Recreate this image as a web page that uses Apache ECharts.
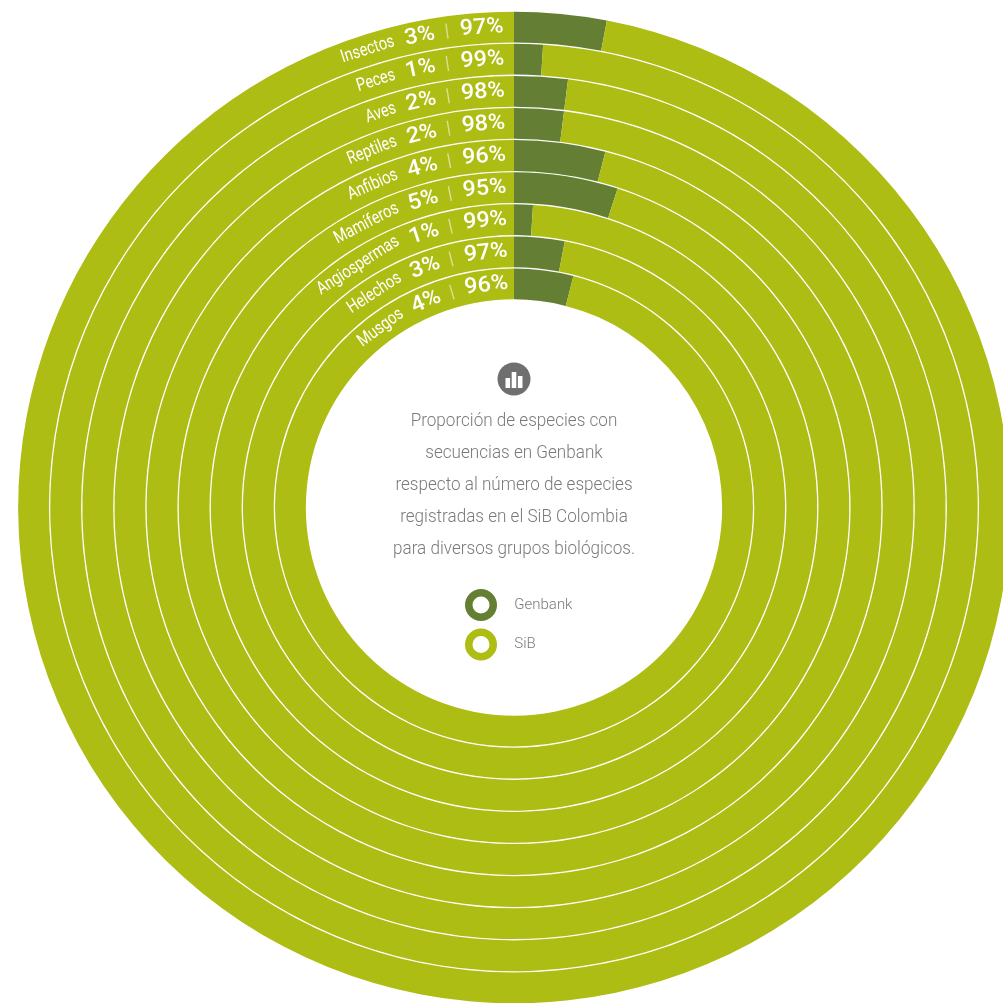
<!DOCTYPE html>
<html lang="es">
<head>
<meta charset="utf-8">
<style>html,body{margin:0;padding:0;background:#fff}#chart{width:1003px;height:1003px}</style>
<script src="https://cdn.jsdelivr.net/npm/echarts@6/dist/echarts.min.js"></script>
</head>
<body>
<div id="chart"></div>
<script>
// Taxonomic groups, outermost ring first
const categories = ['Insectos','Peces','Aves','Reptiles','Anfibios','Mamíferos','Angiospermas','Helechos','Musgos'];
const genbank = [3,1,2,2,4,5,1,3,4];
const sib = [97,99,98,98,96,95,99,97,96];
const descriptionLines = [
  'Proporción de especies con',
  'secuencias en Genbank',
  'respecto al número de especies',
  'registradas en el SiB Colombia',
  'para diversos grupos biológicos.'
];

const DARK = '#647f33', LIGHT = '#adbd13', GREY = '#7a7a7a';
const NAME_FONT = '400 18px Roboto';
const VALUE_FONT = '500 22px Roboto';
const NAME_SQUEEZE = 0.81, VALUE_SQUEEZE = 1.06;

const measure = document.createElement('canvas').getContext('2d');
function widthOf(text, font) { measure.font = font; return measure.measureText(text).width; }

// Words of one ring are laid along the arc, right to left, ending near the 12 o'clock line.
function renderRingLabels(params, api) {
  const i = api.value(0);
  const top = api.coord([i, 0]);
  const radius = params.coordSys.cy - top[1];
  const words = [
    {text: sib[i] + '%', font: VALUE_FONT, squeeze: VALUE_SQUEEZE, gap: 2 + radius * 0.0175},
    {text: '|', font: NAME_FONT, squeeze: 1, gap: 11, opacity: 0.55},
    {text: genbank[i] + '%', font: VALUE_FONT, squeeze: VALUE_SQUEEZE, gap: 10},
    {text: categories[i], font: NAME_FONT, squeeze: NAME_SQUEEZE, gap: 11}
  ];
  let arc = 0;
  const children = words.map(function (w) {
    const width = widthOf(w.text, w.font) * w.squeeze;
    arc += w.gap + width / 2;
    const share = arc / (2 * Math.PI * radius);
    const p = api.coord([i, 100 - share * 100]);
    arc += width / 2;
    return {
      type: 'text',
      x: p[0], y: p[1],
      rotation: share * 2 * Math.PI,
      scaleX: w.squeeze,
      style: {
        text: w.text, font: w.font, fill: '#fff', opacity: w.opacity || 1,
        align: 'center', verticalAlign: 'middle'
      }
    };
  });
  return {type: 'group', children: children};
}

const chart = echarts.init(document.getElementById('chart'), null, {renderer: 'canvas'});
chart.setOption({
  animation: false,
  backgroundColor: '#fff',
  polar: {center: [514, 507.5], radius: [207.5, 496.5]},
  angleAxis: {type: 'value', min: 0, max: 100, startAngle: 90, show: false},
  radiusAxis: {
    type: 'category', data: categories, inverse: true,
    axisLine: {show: false}, axisTick: {show: false}, axisLabel: {show: false}, splitLine: {show: false}
  },
  legend: {
    data: [
      {name: 'Genbank', itemStyle: {color: '#fff', borderColor: DARK, borderWidth: 7.5}},
      {name: 'SiB', itemStyle: {color: '#fff', borderColor: LIGHT, borderWidth: 7.5}}
    ],
    orient: 'vertical', left: 460, top: 584,
    icon: 'circle', itemWidth: 24.5, itemHeight: 24.5, itemGap: 7.5,
    selectedMode: false,
    textStyle: {color: GREY, fontFamily: 'Roboto', fontWeight: 300, fontSize: 15, padding: [0, 0, 0, 16]}
  },
  graphic: [{
    type: 'group', silent: true,
    children: [
      {type: 'circle', shape: {cx: 514, cy: 379, r: 16.5}, style: {fill: '#6f6f6f'}},
      {type: 'rect', shape: {x: 505.5, y: 378, width: 4.6, height: 10}, style: {fill: '#fff'}},
      {type: 'rect', shape: {x: 511.7, y: 372, width: 4.6, height: 16}, style: {fill: '#fff'}},
      {type: 'rect', shape: {x: 517.9, y: 376, width: 4.6, height: 12}, style: {fill: '#fff'}},
      {
        type: 'text', x: 514, y: 485, scaleX: 0.9,
        style: {
          text: descriptionLines.join('\n'), font: '300 19px Roboto', fill: GREY,
          lineHeight: 32, align: 'center', verticalAlign: 'middle'
        }
      }
    ]
  }],
  series: [
    {name: 'Genbank', type: 'bar', coordinateSystem: 'polar', stack: 'share', data: genbank,
      barWidth: 30.8, itemStyle: {color: DARK}},
    {name: 'SiB', type: 'bar', coordinateSystem: 'polar', stack: 'share', data: sib,
      barWidth: 30.8, itemStyle: {color: LIGHT}},
    {type: 'custom', coordinateSystem: 'polar', silent: true, z: 5,
      data: categories.map(function (c, i) { return [i, 100]; }),
      encode: {radius: 0, angle: 1},
      renderItem: renderRingLabels}
  ]
});
</script>
</body>
</html>
